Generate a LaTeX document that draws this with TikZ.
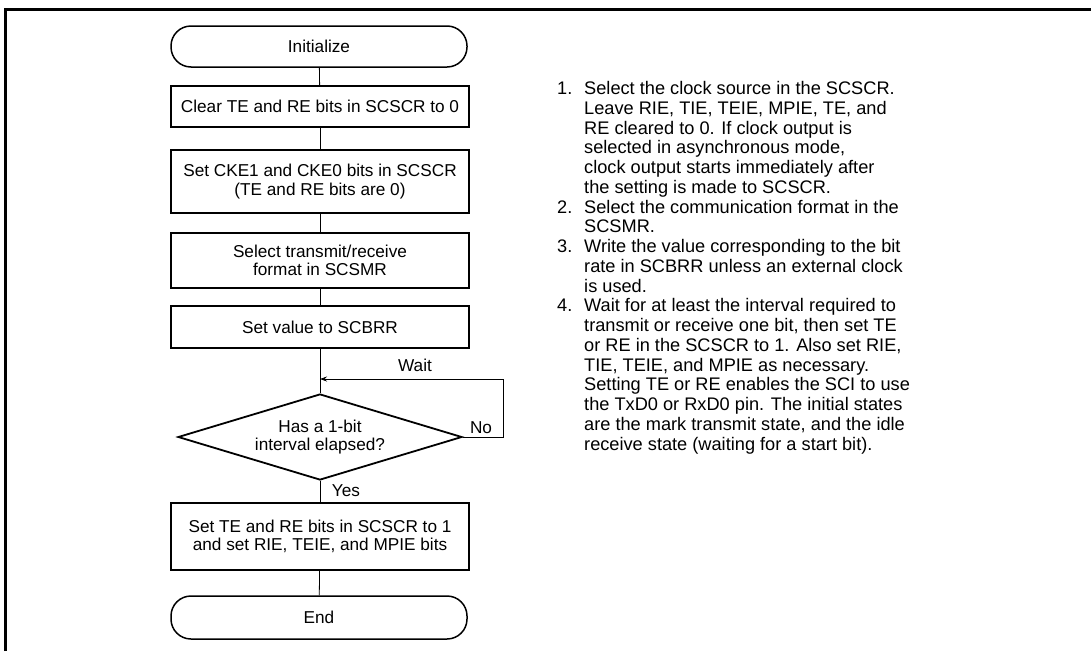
\documentclass[tikz,border=0pt]{standalone}
\usepackage{fontspec}
\setmainfont{Liberation Sans}
\usetikzlibrary{arrows.meta,shapes.geometric}
\begin{document}
\begin{tikzpicture}[x=1pt,y=-1pt,
  every node/.style={font=\fontsize{17.2}{18.3}\selectfont, inner sep=0pt},
  stepbox/.style={draw, line width=1.8pt, minimum width=298pt, align=center},
  termbox/.style={draw, line width=1.5pt, minimum width=296pt, rounded corners=20pt},
  decbox/.style={draw, line width=1.8pt, diamond, aspect=3.3, minimum width=284pt, minimum height=86pt, align=center},
  conn/.style={line width=0.8pt},
  lbl/.style={font=\fontsize{17.2}{18.3}\selectfont},
  note/.style={anchor=base west, font=\fontsize{18.2}{19.75}\selectfont}
]
\useasboundingbox (0,0) rectangle (1091,651);
\draw[line width=3pt] (5.5,651) -- (5.5,9.5) -- (1091,9.5);

\node[termbox, minimum height=41pt] (init) at (319,46.5) {Initialize};
\node[stepbox, minimum height=41pt] (b1) at (320,106.5) {Clear TE and RE bits in SCSCR to 0};
\node[stepbox, minimum height=63pt] (b2) at (320,181.5) {Set CKE1 and CKE0 bits in SCSCR\\(TE and RE bits are 0)};
\node[stepbox, minimum height=55pt] (b3) at (320,260.5) {Select transmit/receive\\format in SCSMR};
\node[stepbox, minimum height=42pt] (b4) at (320,327) {Set value to SCBRR};
\node[decbox] (d) at (320,437) {Has a 1-bit\\interval elapsed?};
\node[stepbox, minimum height=67pt] (b5) at (320,536.5) {Set TE and RE bits in SCSCR to 1\\and set RIE, TEIE, and MPIE bits};
\node[termbox, minimum height=43pt] (end) at (319,617.5) {End};

\coordinate (join) at (320,379);
\coordinate (rt) at (503,437);
\coordinate (rtop) at (503,379);

\draw[conn] (init) -- (b1);
\draw[conn] (b1) -- (b2);
\draw[conn] (b2) -- (b3);
\draw[conn] (b3) -- (b4);
\draw[conn] (b4) -- (d);
\draw[conn] (d) -- (b5);
\draw[conn] (b5) -- (end);
\draw[conn, -{Stealth[length=7pt,width=5pt]}] (d.east) -- (rt) -- (rtop) -- (join);

\node[lbl] (wait) at (415,365) {Wait};
\node[lbl] (no) at (481,428) {No};
\node[lbl] (yes) at (346,491) {Yes};

\node[note] (n1) at (557,94.5) {1.};
\node[note] (n2) at (557,94.5+6*19.75) {2.};
\node[note] (n3) at (557,94.5+8*19.75) {3.};
\node[note] (n4) at (557,94.5+11*19.75) {4.};
\foreach \t [count=\i from 0] in {
  {Select the clock source in the SCSCR.},
  {Leave RIE, TIE, TEIE, MPIE, TE, and},
  {RE cleared to 0. If clock output is},
  {selected in asynchronous mode,},
  {clock output starts immediately after},
  {the setting is made to SCSCR.},
  {Select the communication format in the},
  {SCSMR.},
  {Write the value corresponding to the bit},
  {rate in SCBRR unless an external clock},
  {is used.},
  {Wait for at least the interval required to},
  {transmit or receive one bit, then set TE},
  {or RE in the SCSCR to 1. Also set RIE,},
  {TIE, TEIE, and MPIE as necessary.},
  {Setting TE or RE enables the SCI to use},
  {the TxD0 or RxD0 pin. The initial states},
  {are the mark transmit state, and the idle},
  {receive state (waiting for a start bit).}}
  \node[note] (t\i) at (584,94.5+19.75*\i) {\t};
\end{tikzpicture}
\end{document}
